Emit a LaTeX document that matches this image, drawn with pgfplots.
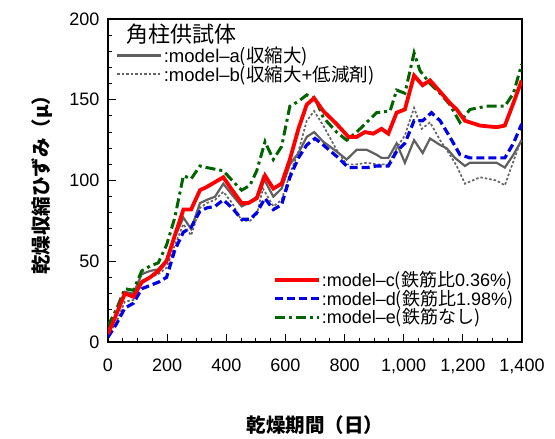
\documentclass[border=0pt]{standalone}
\usepackage{fontspec}
\usepackage{pgfplots}
\pgfplotsset{compat=1.18}
\setmainfont{Liberation Sans}
\newfontfamily\jp{Noto Sans CJK JP}

\definecolor{cRed}{RGB}{255,0,0}
\definecolor{cBlue}{RGB}{0,0,230}
\definecolor{cGreen}{RGB}{0,100,0}
\definecolor{cGrayA}{RGB}{96,96,96}
\definecolor{cGrayB}{RGB}{100,100,100}

\pgfplotsset{
  lA/.style={cGrayA, line width=2.2bp},
  lB/.style={cGrayB, line width=1.7bp, dash pattern=on 2.5bp off 2bp},
  lC/.style={cRed, line width=3.8bp},
  lD/.style={cBlue, line width=3.2bp, dash pattern=on 8bp off 4bp},
  lE/.style={cGreen, line width=3bp, dash pattern=on 10bp off 4bp on 3bp off 4bp},
  common/.style={
    width=414bp, height=323bp, scale only axis,
    xmin=0, xmax=1400, ymin=0, ymax=200,
    legend image code/.code={\draw[##1] (0bp,0bp) -- (44bp,0bp);},
  },
}

\begin{document}
\begin{tikzpicture}
\begin{axis}[
    common, name=ax,
    axis line style={line width=1.2bp},
    xtick={0,200,...,1400}, minor x tick num=3,
    ytick={0,50,...,200}, minor y tick num=4,
    tick pos=left, tick align=inside,
    major tick length=8bp, minor tick length=4bp,
    tick style={line width=1bp, black},
    ticklabel style={font=\fontsize{18bp}{20bp}\selectfont},
    xticklabel style={yshift=-13bp},
    yticklabel style={xshift=-5bp},
    /pgf/number format/assume math mode=true,
    /pgf/number format/1000 sep={,},
    xlabel={\jp\bfseries 乾燥期間（日）},
    ylabel={\jp\bfseries 乾燥収縮ひずみ（μ）},
    label style={font=\fontsize{19.5bp}{22bp}\selectfont},
    xlabel style={yshift=-35bp},
    ylabel style={yshift=10bp},
    legend style={draw=none, fill=none, at={(0.39,0.04)}, anchor=south west,
      font=\fontsize{18bp}{20bp}\selectfont, row sep=-1.2bp,
      nodes={inner sep=1.5bp}},
    legend cell align=left,
]
\addplot[lA, forget plot] coordinates {
(0,7) (28,17) (57,31) (86,30) (114,42) (142,44) (170,45) (198,51) (226,65) (255,77)
(281,70) (311,86) (334,88) (362,90) (390,98) (420,91) (452,84) (474,86) (503,90) (524,102)
(559,90) (587,95) (615,110) (644,117) (672,127) (697,130) (728,124) (773,118) (807,113) (841,119)
(875,119) (908,116) (925,114) (948,114) (976,123) (1004,111) (1035,125) (1064,117) (1089,126) (1123,122)
(1145,120) (1173,114) (1207,109) (1224,111) (1314,111) (1342,108) (1371,116) (1399,125)};
\addplot[lB, forget plot] coordinates {
(0,4) (28,12) (57,25) (86,26) (114,38) (142,40) (170,42) (198,46) (226,60) (255,73)
(281,66) (311,83) (334,86) (362,88) (390,93) (420,86) (452,75) (480,75) (503,79) (524,95)
(559,84) (587,88) (615,104) (644,118) (672,137) (697,143) (728,134) (773,119) (807,110) (841,110)
(875,111) (908,110) (948,110) (976,120) (1004,128) (1035,145) (1061,132) (1089,136) (1123,125) (1156,116)
(1179,109) (1207,98) (1258,102) (1314,100) (1342,97) (1371,112) (1399,126)};
\addplot[lE, forget plot] coordinates {
(0,10) (28,20) (57,33) (86,32) (114,44) (142,47) (170,49) (198,60) (226,77) (255,103)
(281,101) (311,109) (334,108) (362,107) (390,106) (420,100) (452,94) (480,97) (503,106) (531,124)
(559,113) (587,121) (615,146) (644,149) (672,153) (700,151) (728,139) (773,130) (807,125) (841,130)
(875,136) (908,142) (954,143) (976,156) (1004,154) (1035,179) (1055,168) (1089,160) (1123,154) (1156,147)
(1190,136) (1224,144) (1280,146) (1342,146) (1371,154) (1399,172)};
\addplot[lD, forget plot] coordinates {
(0,3) (28,11) (57,21) (86,24) (114,33) (142,35) (170,37) (198,40) (226,57) (255,68)
(281,71) (311,81) (334,83) (362,84) (390,88) (420,83) (452,76) (480,76) (503,80) (531,89)
(559,82) (587,85) (615,102) (644,114) (672,122) (700,126) (728,122) (773,115) (813,108) (841,108)
(875,108) (908,109) (948,109) (976,118) (1004,123) (1035,137) (1064,137) (1094,142) (1123,137) (1156,127)
(1190,116) (1224,114) (1342,114) (1371,123) (1399,135)};
\addplot[lC, forget plot] coordinates {
(0,5) (28,17) (57,30) (86,28) (114,37) (142,40) (170,44) (198,50) (226,66) (255,82)
(281,82) (311,94) (334,96) (362,99) (390,102) (420,94) (452,86) (474,86) (503,89) (531,103)
(559,95) (587,98) (615,113) (644,132) (672,147) (697,151) (728,143) (773,135) (813,127) (841,127)
(869,130) (897,129) (925,132) (948,129) (976,142) (1004,144) (1035,165) (1064,159) (1089,162) (1123,155)
(1156,148) (1179,144) (1207,137) (1258,134) (1314,133) (1342,134) (1371,148) (1399,162)};
\addlegendimage{lC}
\addlegendentry{:model\textendash c{\jp (鉄筋比}0.36\%{\jp )}}
\addlegendimage{lD}
\addlegendentry{:model\textendash d{\jp (鉄筋比}1.98\%{\jp )}}
\addlegendimage{lE}
\addlegendentry{:model\textendash e{\jp (鉄筋なし)}}
\end{axis}
\begin{axis}[
    common, hide axis,
    legend style={draw=none, fill=none, at={(0.012,0.925)}, anchor=north west,
      font=\fontsize{18.5bp}{20bp}\selectfont, row sep=-1.5bp,
      nodes={inner sep=1.5bp}},
    legend cell align=left,
]
\node[anchor=north west, font=\jp\fontsize{22bp}{24bp}\selectfont, inner sep=0pt]
  at (rel axis cs:0.043,0.985) {角柱供試体};
\addlegendimage{lA}
\addlegendentry{:model\textendash a{\jp (収縮大)}}
\addlegendimage{lB}
\addlegendentry{:model\textendash b{\jp (収縮大}+{\jp 低減剤)}}
\end{axis}
\pgfresetboundingbox
\useasboundingbox ([shift={(-108bp,-97bp)}]ax.south west) rectangle ([shift={(33bp,19bp)}]ax.north east);
\end{tikzpicture}
\end{document}
